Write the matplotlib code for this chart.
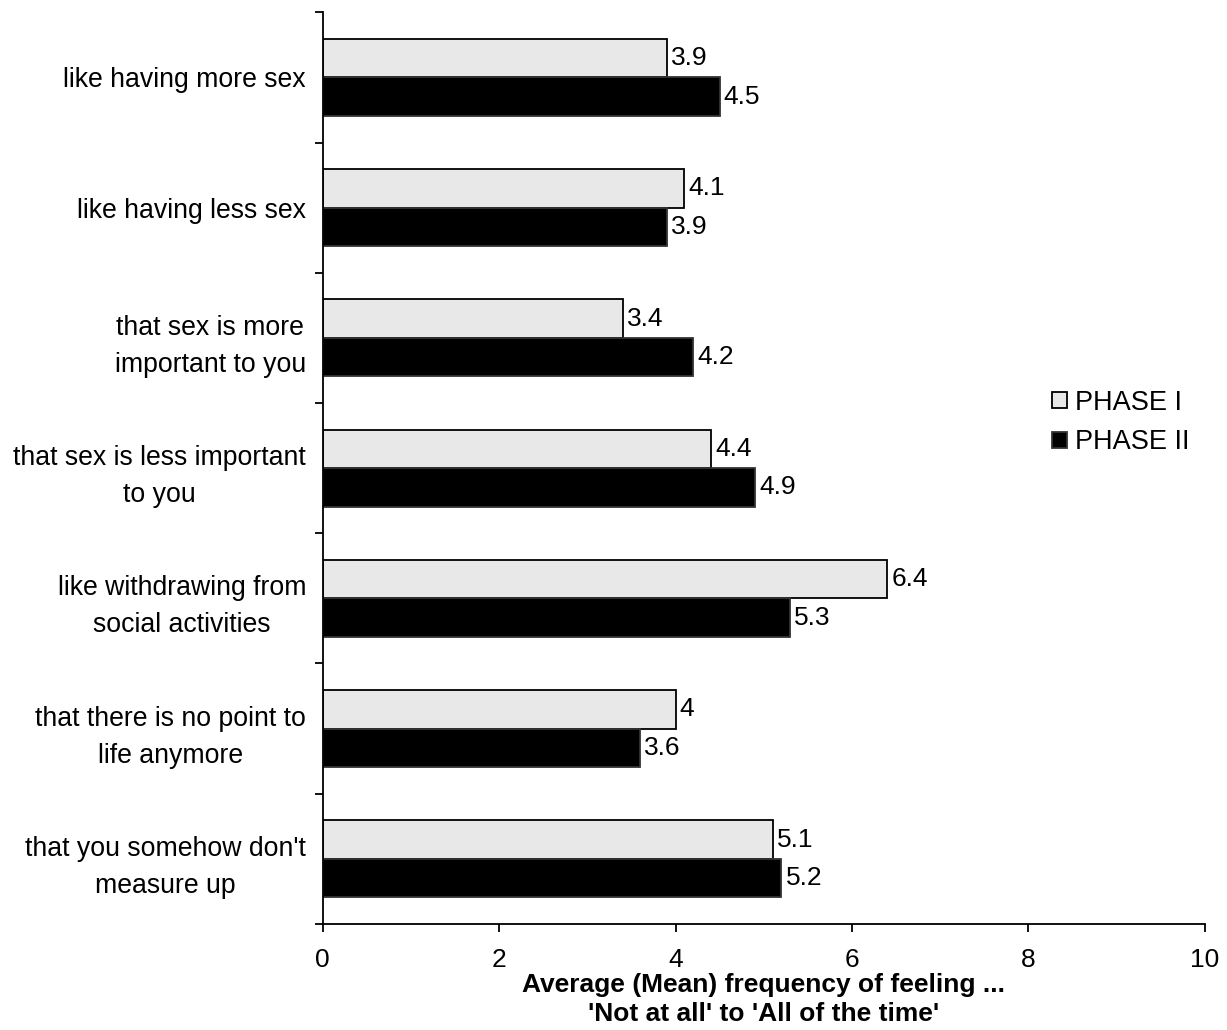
import numpy as np
from matplotlib import pyplot as plt

plt.rcParams["font.family"] = ["Liberation Sans", "DejaVu Sans"]

categories = [
    "like having more sex",
    "like having less sex",
    "that sex is more\nimportant to you",
    "that sex is less important\nto you",
    "like withdrawing from\nsocial activities",
    "that there is no point to\nlife anymore",
    "that you somehow don't\nmeasure up",
]
phase1 = [3.9, 4.1, 3.4, 4.4, 6.4, 4, 5.1]
phase2 = [4.5, 3.9, 4.2, 4.9, 5.3, 3.6, 5.2]
series_names = ["PHASE I", "PHASE II"]

fig = plt.figure(figsize=(12.27, 10.30), dpi=100)
ax = fig.add_axes([0.263, 0.103, 0.719, 0.885])

y = np.arange(len(categories))
h = 0.295  # bar thickness

bars1 = ax.barh(y - h / 2, phase1, h, color="#e8e8e8", edgecolor="black", linewidth=1.3, label=series_names[0])
bars2 = ax.barh(y + h / 2, phase2, h, color="black", edgecolor="#333333", linewidth=1.3, label=series_names[1])
ax.bar_label(bars1, labels=[f"{v:g}" for v in phase1], padding=3, fontsize=19)
ax.bar_label(bars2, labels=[f"{v:g}" for v in phase2], padding=3, fontsize=19)

ax.set_xlim(0, 10)
ax.set_ylim(len(categories) - 0.5, -0.5)
ax.set_xticks(np.arange(0, 11, 2))
ax.set_yticks(y)
ax.set_yticklabels(categories, linespacing=1.55)
for lab in ax.get_yticklabels():
    lab.set_multialignment("center")
# ticks on the category boundaries
ax.set_yticks(np.arange(-0.5, len(categories)), minor=True)
ax.tick_params(axis="y", which="major", length=0, pad=12, labelsize=19.2)
ax.tick_params(axis="y", which="minor", length=6, width=1.3, direction="out")
ax.tick_params(axis="x", length=6, width=1.3, direction="out", labelsize=19, pad=11)

for side in ("top", "right"):
    ax.spines[side].set_visible(False)
for side in ("left", "bottom"):
    ax.spines[side].set_linewidth(1.3)

ax.set_xlabel("Average (Mean) frequency of feeling ...\n'Not at all' to 'All of the time'",
              fontsize=19, fontweight="bold", labelpad=1, linespacing=1.25)

ax.legend(loc="center left", bbox_to_anchor=(0.799, 0.55), frameon=False, fontsize=19.5,
          handlelength=0.55, handleheight=0.55, handletextpad=0.3, labelspacing=0.5)

fig.savefig("out.png")
